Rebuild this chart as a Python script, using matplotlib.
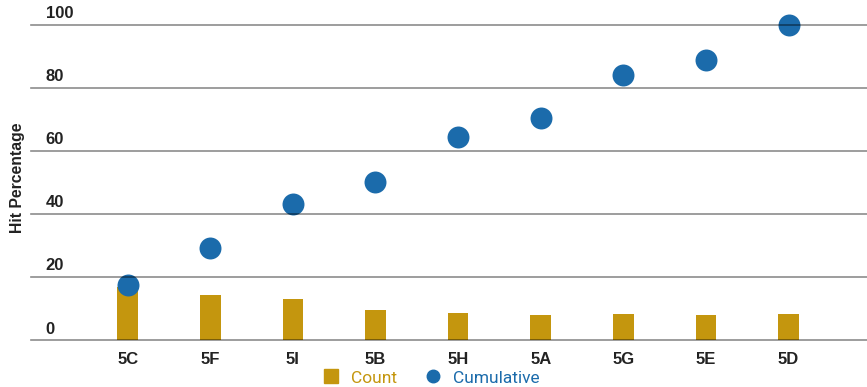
import matplotlib
matplotlib.use("Agg")
import matplotlib.pyplot as plt
from matplotlib.lines import Line2D

categories = ["5C", "5F", "5I", "5B", "5H", "5A", "5G", "5E", "5D"]
count = [16.8, 14.2, 13.0, 9.5, 8.5, 7.9, 8.2, 7.9, 8.2]
cumulative = [17.3, 29.1, 43.1, 50.0, 64.3, 70.4, 83.9, 88.7, 100.0]
y_ticks = [0, 20, 40, 60, 80, 100]

GOLD = "#C4960E"
BLUE = "#1B6BAB"
TEXT = "#222222"

plt.rcParams["font.family"] = ["Liberation Sans", "DejaVu Sans"]

fig = plt.figure(figsize=(8.67, 3.87), dpi=100)
ax = fig.add_axes([31 / 867, (387 - 340) / 387, 1 - 31 / 867, (340 - 24.5) / 387])

x = list(range(len(categories)))
ax.bar(x, count, width=0.25, color=GOLD, zorder=2)
ax.scatter(x, cumulative, s=250, color=BLUE, zorder=3, clip_on=False, linewidths=0)

ax.set_xlim(-1.17, 8.95)
ax.set_ylim(0, 100)

# horizontal grid drawn over the marks
for v in y_ticks:
    ax.axhline(v, color="black", alpha=0.45, lw=1.2, zorder=4, clip_on=False)
    ax.text(0.0175, v + 1.1, str(v), transform=ax.get_yaxis_transform(),
            ha="left", va="bottom", fontsize=12, fontweight="bold", color=TEXT)

ax.set_yticks([])
ax.set_xticks(x)
ax.set_xticklabels(categories, fontsize=12, fontweight="bold", color=TEXT)
ax.tick_params(axis="x", length=0, pad=9)
for s in ax.spines.values():
    s.set_visible(False)

fig.text(18 / 867, 1 - 178 / 387, "Hit Percentage", rotation=90, ha="center", va="center",
         fontsize=11.3, fontweight="bold", color=TEXT)

# legend
handles = [
    Line2D([], [], marker="s", linestyle="none", markersize=9.5, color=GOLD),
    Line2D([], [], marker="o", linestyle="none", markersize=9, color=BLUE),
]
leg = fig.legend(handles, ["Count", "Cumulative"], loc="center", bbox_to_anchor=(431 / 867, 1 - 378 / 387),
                 ncol=2, frameon=False, handlelength=1.0, handletextpad=0.65, columnspacing=1.6,
                 prop={"family": ["Roboto", "DejaVu Sans"], "size": 12.5})
for t, c in zip(leg.get_texts(), [GOLD, BLUE]):
    t.set_color(c)

fig.savefig("out.png", dpi=100)
